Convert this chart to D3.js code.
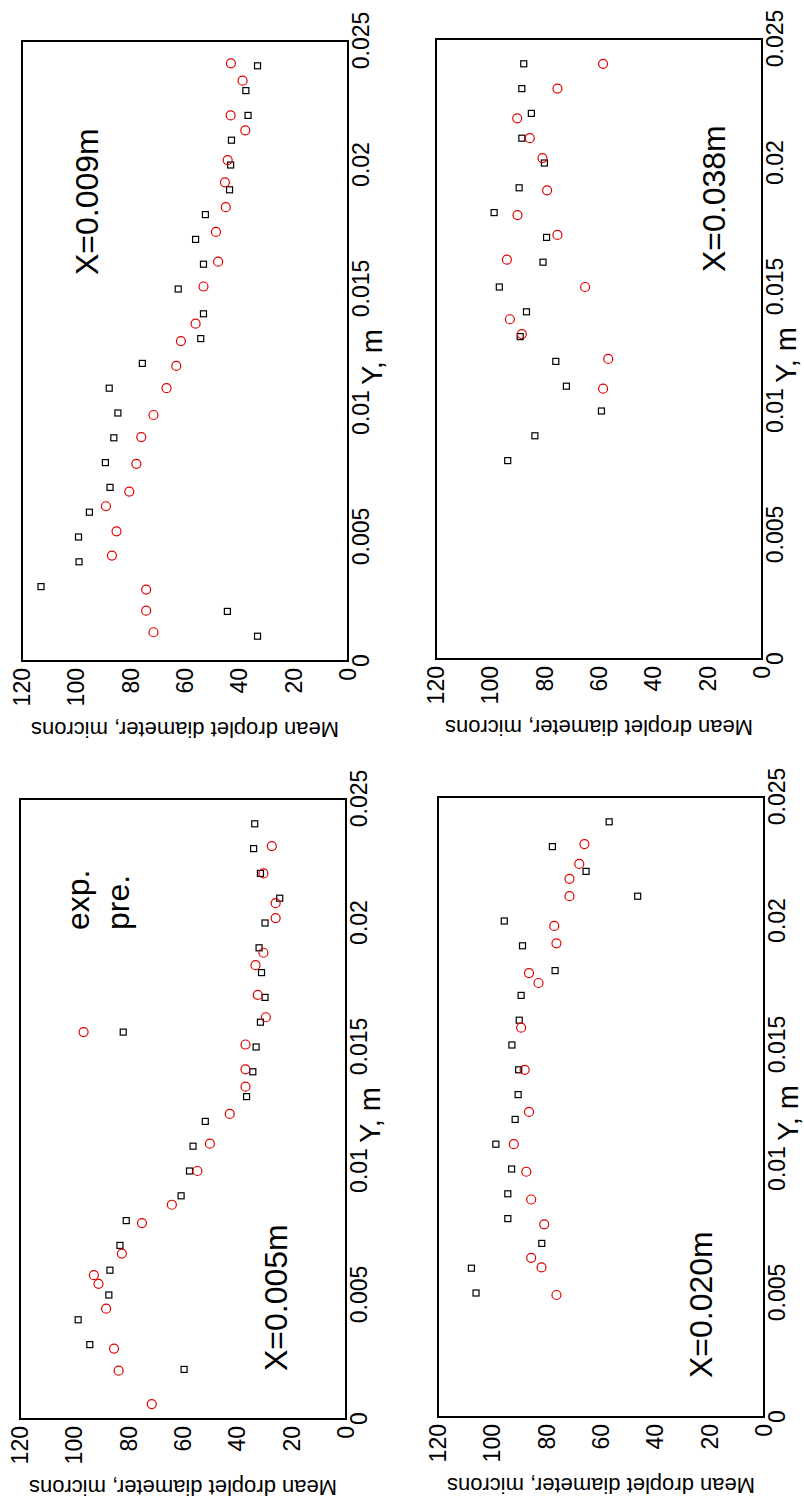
<!DOCTYPE html>
<html>
<head>
<meta charset="utf-8">
<script src="https://cdn.jsdelivr.net/npm/d3@7"></script>
<style>
html,body{margin:0;padding:0;background:#fff;}
svg{display:block;}
text{font-family:"Liberation Sans",Arial,Helvetica,sans-serif;fill:#000;}
</style>
</head>
<body>
<svg id="chart" width="804" height="1503"></svg>
<script>
// Tick values
const yPosTicks = [0, 0.005, 0.01, 0.015, 0.02, 0.025];
const yPosTickLabels = ["0", "0.005", "0.01", "0.015", "0.02", "0.025"];
const diamTicks = [0, 20, 40, 60, 80, 100, 120];
const xLabel = "Y, m";
const yLabel = "Mean droplet diameter, microns";
const legendLabels = ["exp.", "pre."];

// X = 0.005 m
const p005Title = "X=0.005m";
const p005ExpY = [0.002,0.003,0.004,0.005,0.006,0.007,0.008,0.009,0.010,0.011,0.012,0.013,0.014,0.015,0.0156,0.016,0.017,0.018,0.019,0.020,0.021,0.022,0.023,0.024];
const p005ExpD = [59.6,94.3,98.6,87.3,86.9,83.2,80.9,60.7,57.6,56.3,51.8,36.6,34.3,33.1,82.0,31.5,29.8,31.1,32.0,29.8,24.4,31.5,34.0,33.6];
const p005PreY = [0.0006,0.00195,0.00284,0.00445,0.00545,0.0058,0.00667,0.0079,0.00864,0.0100,0.0111,0.0123,0.0134,0.0141,0.0151,0.0156,0.0162,0.0171,0.0183,0.0188,0.0202,0.0208,0.0220,0.0231];
const p005PreD = [71.5,83.7,85.4,88.3,91.1,92.8,82.5,75.1,64.1,54.7,50.1,42.8,37.0,37.0,37.0,96.6,29.5,32.5,33.3,30.4,25.9,25.9,30.4,27.3];

// X = 0.009 m
const p009Title = "X=0.009m";
const p009ExpY = [0.001,0.002,0.003,0.004,0.005,0.006,0.007,0.008,0.009,0.010,0.011,0.012,0.013,0.014,0.015,0.016,0.017,0.018,0.019,0.020,0.021,0.022,0.023,0.024];
const p009ExpD = [33.3,44.4,113,99,99.2,95.2,87.6,89.3,86.2,84.7,87.9,75.7,54.2,53.2,62.5,53.2,56.1,52.5,43.6,43.2,42.9,36.8,37.6,33.3];
const p009PreY = [0.00116,0.00203,0.00288,0.00425,0.00523,0.00624,0.00683,0.00795,0.00903,0.00992,0.0110,0.0119,0.0129,0.0136,0.0151,0.0161,0.0173,0.0183,0.0193,0.0202,0.0214,0.0220,0.0234,0.0241];
const p009PreD = [71.6,74.3,74.3,86.9,85.2,89.1,80.5,77.9,76.1,71.6,66.8,63.2,61.5,56.1,53.2,47.8,48.6,45.0,45.3,44.3,37.8,43.2,38.8,43.1];

// X = 0.020 m
const p020Title = "X=0.020m";
const p020ExpY = [0.005,0.006,0.007,0.008,0.009,0.010,0.011,0.012,0.013,0.014,0.015,0.016,0.017,0.018,0.019,0.020,0.021,0.022,0.023,0.024];
const p020ExpD = [106.0,107.7,81.8,94.3,94.3,92.9,98.7,91.6,90.5,90.3,92.8,90.1,89.4,76.9,88.9,95.6,46.5,65.5,77.9,57.0];
const p020PreY = [0.00492,0.00603,0.00642,0.00777,0.00877,0.00989,0.0110,0.0123,0.0140,0.0157,0.0175,0.0179,0.0191,0.0198,0.0210,0.0217,0.0223,0.0231];
const p020PreD = [76.4,81.9,85.7,80.9,85.7,87.5,92.1,86.5,88.1,89.4,83.0,86.5,76.4,77.2,71.6,71.6,68.0,66.1];

// X = 0.038 m
const p038Title = "X=0.038m";
const p038ExpY = [0.008,0.009,0.010,0.011,0.012,0.013,0.014,0.015,0.016,0.017,0.018,0.019,0.020,0.021,0.022,0.023,0.024];
const p038ExpD = [93.6,83.6,59.1,72.0,75.9,89.0,86.7,96.7,80.6,79.3,98.6,89.4,80.1,88.4,84.9,88.4,87.7];
const p038PreY = [0.0109,0.0121,0.0131,0.0137,0.0150,0.0161,0.0171,0.0179,0.0189,0.0202,0.0210,0.0218,0.0230,0.0240];
const p038PreD = [58.5,56.6,88.4,92.8,65.1,93.9,75.3,90.0,79.1,80.8,85.5,90.1,75.3,58.5];

const svg = d3.select("#chart");

// Panels: screen frame boxes (the figure is rotated 90 deg counter-clockwise)
const panels = [
  {title:p009Title, ey:p009ExpY, ed:p009ExpD, py:p009PreY, pd:p009PreD, left:22, right:348, top:41, bottom:661, titleX:386, titleY:76, legend:false},
  {title:p038Title, ey:p038ExpY, ed:p038ExpD, py:p038PreY, pd:p038PreD, left:436, right:762, top:39, bottom:659, titleX:387, titleY:289, legend:false},
  {title:p005Title, ey:p005ExpY, ed:p005ExpD, py:p005PreY, pd:p005PreD, left:20, right:346, top:799, bottom:1419, titleX:48, titleY:267, legend:true},
  {title:p020Title, ey:p020ExpY, ed:p020ExpD, py:p020PreY, pd:p020PreD, left:438, right:764, top:797, bottom:1417, titleX:39, titleY:274, legend:false}
];

panels.forEach(p => {
  const W = p.bottom - p.top;   // landscape width (Y, m)
  const H = p.right - p.left;   // landscape height (diameter)
  const g = svg.append("g").attr("transform", `translate(${p.left},${p.bottom}) rotate(-90)`);

  const x = d3.scaleLinear().domain([0, 0.025]).range([0, W]);
  const y = d3.scaleLinear().domain([0, 120]).range([H, 0]);

  // x-axis tick labels
  const xAxis = d3.axisBottom(x).tickValues(yPosTicks)
    .tickFormat((d,i) => yPosTickLabels[i]).tickSize(0).tickPadding(5);
  const xa = g.append("g").attr("transform", `translate(0,${H})`).call(xAxis);
  xa.select(".domain").remove();
  xa.selectAll("text").attr("font-size", 23).attr("font-family", "Liberation Sans, Arial, sans-serif").attr("fill", "#000");

  // y-axis tick labels
  const yAxis = d3.axisLeft(y).tickValues(diamTicks).tickFormat(d3.format("d")).tickSize(0).tickPadding(7);
  const ya = g.append("g").call(yAxis);
  ya.select(".domain").remove();
  ya.selectAll("text").attr("font-size", 23).attr("font-family", "Liberation Sans, Arial, sans-serif").attr("fill", "#000");

  // frame
  g.append("rect").attr("x", 0).attr("y", 0).attr("width", W).attr("height", H)
    .attr("fill", "none").attr("stroke", "#000").attr("stroke-width", 2);

  // axis labels
  g.append("text").attr("x", W/2 - 6).attr("y", H + 34)
    .attr("text-anchor", "middle").attr("font-size", 29).text(xLabel);
  g.append("text").attr("transform", `translate(-61,${H/2}) rotate(-90)`)
    .attr("text-anchor", "middle").attr("font-size", 22).text(yLabel);

  // title
  g.append("text").attr("x", p.titleX).attr("y", p.titleY).attr("font-size", 32).text(p.title);

  if (p.legend) {
    g.append("text").attr("x", 489).attr("y", 69).attr("font-size", 32).text(legendLabels[0]);
    g.append("text").attr("x", 489).attr("y", 109).attr("font-size", 32).text(legendLabels[1]);
  }

  // experimental: black squares
  const s = 6;
  g.selectAll(".sq").data(p.ey.map((v,i) => [v, p.ed[i]])).enter().append("rect")
    .attr("x", d => x(d[0]) - s/2).attr("y", d => y(d[1]) - s/2)
    .attr("width", s).attr("height", s)
    .attr("fill", "none").attr("stroke", "#000").attr("stroke-width", 1.2);

  // predicted: red circles
  g.selectAll(".ci").data(p.py.map((v,i) => [v, p.pd[i]])).enter().append("circle")
    .attr("cx", d => x(d[0])).attr("cy", d => y(d[1])).attr("r", 4.5)
    .attr("fill", "none").attr("stroke", "#e00000").attr("stroke-width", 1.2);
});
</script>
</body>
</html>
